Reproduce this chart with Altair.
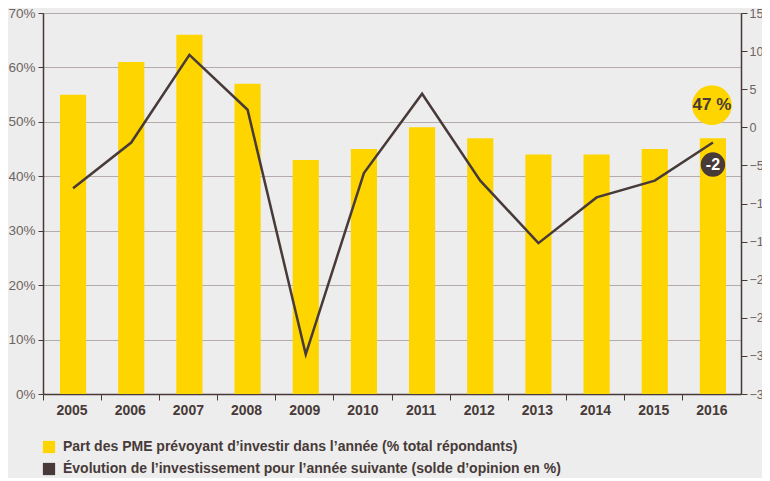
import altair as alt
import pandas as pd

years = [str(y) for y in range(2005, 2017)]
share = [55, 61, 66, 57, 43, 45, 49, 47, 44, 44, 45, 47]
balance = [-8, -2, 9.5, 2.3, -29.8, -6, 4.4, -7, -15.2, -9.2, -7, -2]
series = [
    "Part des PME prévoyant d’investir dans l’année (% total répondants)",
    "Évolution de l’investissement pour l’année suivante (solde d’opinion en %)",
]
colors = ["#FFD500", "#473A38"]
left_ticks = [0, 0.1, 0.2, 0.3, 0.4, 0.5, 0.6, 0.7]
right_ticks = [-35, -30, -25, -20, -15, -10, -5, 0, 5, 10, 15]

df = pd.DataFrame({
    "year": years,
    "share": [s / 100 for s in share],
    "balance": balance,
    "series": series[0],
})
last = df.tail(1).assign(
    share_label=f"{share[-1]} %",
    bal_label=f"{balance[-1]:g}",
)

FONT = "Liberation Sans"
DARK = "#473A38"
GREY = "#6E6462"

x = alt.X(
    "year:N",
    title=None,
    scale=alt.Scale(paddingInner=0, paddingOuter=0),
    axis=alt.Axis(
        labelAngle=0, bandPosition=0, tickSize=6, labelPadding=3,
        labelFont=FONT, labelFontSize=14, labelFontWeight="bold", labelColor=DARK,
        domainColor=DARK, tickColor=DARK, domainWidth=1.5, grid=False,
    ),
)

y_left = alt.Y(
    "share:Q", title=None,
    scale=alt.Scale(domain=[0, 0.7]),
    axis=alt.Axis(
        values=left_ticks, format="%", grid=True, gridColor="#B3ACAA", gridWidth=1.2,
        tickSize=5, labelPadding=3, labelFont=FONT, labelFontSize=13.5, labelColor=GREY,
        domainColor=DARK, tickColor=DARK, domainWidth=1.5,
    ),
)

bars = alt.Chart(df).mark_bar(width=alt.RelativeBandSize(0.45), xOffset=1).encode(
    x=x,
    y=y_left,
    color=alt.Color(
        "series:N",
        scale=alt.Scale(domain=series, range=colors),
        legend=alt.Legend(
            title=None, orient="none", legendX=-1, legendY=427,
            symbolType="square", symbolSize=150, symbolStrokeWidth=0,
            labelFont=FONT, labelFontSize=14, labelFontWeight="bold",
            labelColor=DARK, rowPadding=8, labelOffset=7, labelLimit=700,
        ),
    ),
)

share_circle = alt.Chart(df.tail(1)).mark_circle(
    size=1580, color="#FFD500", opacity=1, yOffset=-33, xOffset=0
).encode(x=x, y=y_left)
share_text = alt.Chart(last).mark_text(
    font=FONT, fontSize=17, fontWeight="bold", color=DARK, yOffset=-33, xOffset=0
).encode(x=x, y=y_left, text="share_label:N")

left = alt.layer(bars, share_circle, share_text)

y_right = alt.Y(
    "balance:Q", title=None,
    scale=alt.Scale(domain=[-35, 15]),
    axis=alt.Axis(
        orient="right", values=right_ticks, grid=False,
        tickSize=6, labelPadding=2, labelFont=FONT, labelFontSize=12.5, labelColor=GREY,
        domainColor=DARK, tickColor=DARK, domainWidth=1.5,
    ),
)
line = alt.Chart(df).mark_line(color=DARK, strokeWidth=2.5, xOffset=1).encode(x=x, y=y_right)

bal_circle = alt.Chart(last).mark_circle(
    size=600, color=DARK, opacity=1, yOffset=22, xOffset=1
).encode(x=x, y=y_right)
bal_text = alt.Chart(last).mark_text(
    font=FONT, fontSize=16, fontWeight="bold", color="white", yOffset=22, xOffset=1
).encode(x=x, y=y_right, text="bal_label:N")

right = alt.layer(line, bal_circle, bal_text)

chart = (
    alt.layer(left, right)
    .resolve_scale(y="independent")
    .properties(
        width=698, height=381,
        autosize=alt.AutoSizeParams(type="none"),
        padding={"left": 35, "top": 5, "right": 21, "bottom": 84},
    )
    .configure(background="#EDEDED")
    .configure_view(stroke=None)
)

chart.save("out.html", embed_options={"renderer": "svg", "actions": False})
